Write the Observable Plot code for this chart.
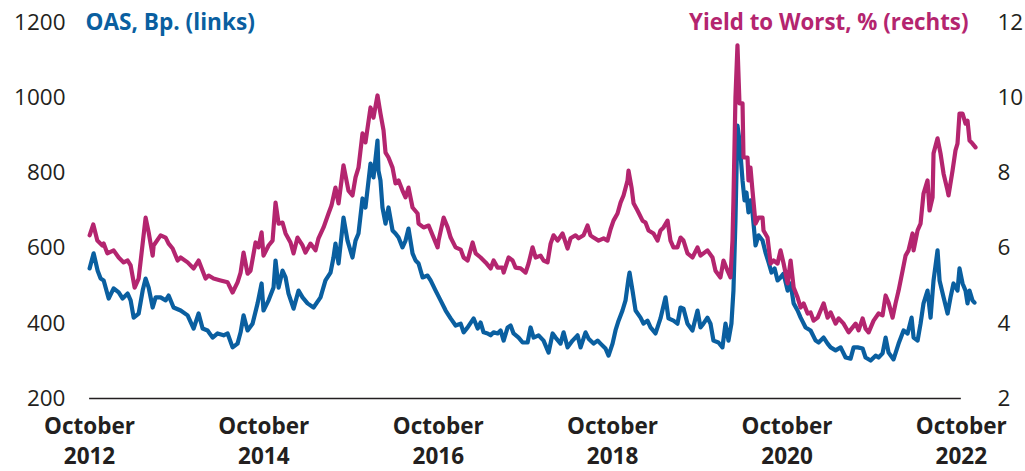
<!DOCTYPE html>
<html>
<head>
<meta charset="utf-8">
<script src="https://cdn.jsdelivr.net/npm/d3@7"></script>
<script src="https://cdn.jsdelivr.net/npm/@observablehq/plot@0.6"></script>
<style>
  html, body { margin: 0; padding: 0; background: #fff; }
  #chart { width: 1025px; height: 471px; }
</style>
</head>
<body>
<div id="chart"></div>
<script>
// High-yield spreads (OAS, basis points, left axis) and yield to worst (%, right axis).
// Time is given as decimal years.
const oasTicks = [200, 400, 600, 800, 1000, 1200];
const ytwTicks = [2, 4, 6, 8, 10, 12];
const tickYears = [2012, 2014, 2016, 2018, 2020, 2022];
const tickMonthName = "October";
const oasTitle = "OAS, Bp. (links)";
const ytwTitle = "Yield to Worst, % (rechts)";

const oasPoints = [
  [2012.750,546],[2012.796,586],[2012.842,540],[2012.876,519],[2012.911,514],[2012.968,466],[2013.025,493],[2013.083,482],
  [2013.128,466],[2013.186,479],[2013.220,461],[2013.255,415],[2013.312,426],[2013.358,487],[2013.392,519],[2013.427,495],
  [2013.473,442],[2013.507,469],[2013.564,469],[2013.622,461],[2013.656,474],[2013.713,442],[2013.794,434],[2013.874,421],
  [2013.943,386],[2014.000,426],[2014.046,386],[2014.103,381],[2014.161,362],[2014.218,373],[2014.287,368],[2014.333,373],
  [2014.390,336],[2014.447,346],[2014.482,376],[2014.516,421],[2014.562,381],[2014.619,399],[2014.677,453],[2014.723,506],
  [2014.745,434],[2014.803,461],[2014.860,495],[2014.883,567],[2014.918,495],[2014.963,540],[2014.998,522],[2015.032,479],
  [2015.090,439],[2015.147,487],[2015.193,469],[2015.250,453],[2015.319,442],[2015.399,469],[2015.456,514],[2015.514,535],
  [2015.548,575],[2015.571,612],[2015.606,559],[2015.663,681],[2015.709,620],[2015.766,575],[2015.801,620],[2015.835,639],
  [2015.881,732],[2015.915,708],[2015.973,825],[2016.007,788],[2016.053,886],[2016.064,806],[2016.087,780],[2016.110,708],
  [2016.145,665],[2016.179,708],[2016.225,647],[2016.259,639],[2016.294,628],[2016.339,602],[2016.374,620],[2016.408,652],
  [2016.454,586],[2016.489,567],[2016.523,559],[2016.569,522],[2016.626,527],[2016.661,514],[2016.718,487],[2016.775,461],
  [2016.833,434],[2016.890,413],[2016.947,394],[2017.005,399],[2017.039,376],[2017.085,389],[2017.154,413],[2017.200,386],
  [2017.234,402],[2017.268,376],[2017.314,373],[2017.349,368],[2017.383,376],[2017.429,373],[2017.463,381],[2017.498,354],
  [2017.544,389],[2017.578,394],[2017.612,373],[2017.670,362],[2017.716,349],[2017.773,349],[2017.807,389],[2017.842,362],
  [2017.899,368],[2017.956,354],[2018.014,322],[2018.060,373],[2018.094,362],[2018.151,346],[2018.186,376],[2018.232,336],
  [2018.289,354],[2018.346,368],[2018.381,336],[2018.438,376],[2018.473,359],[2018.530,346],[2018.576,354],[2018.610,346],
  [2018.667,333],[2018.702,314],[2018.748,346],[2018.782,381],[2018.817,407],[2018.862,434],[2018.897,461],[2018.931,519],
  [2018.943,535],[2018.977,487],[2019.012,434],[2019.069,415],[2019.103,399],[2019.149,407],[2019.184,389],[2019.241,373],
  [2019.298,413],[2019.356,469],[2019.390,413],[2019.447,407],[2019.493,399],[2019.528,442],[2019.562,439],[2019.608,399],
  [2019.665,381],[2019.723,434],[2019.757,389],[2019.791,399],[2019.837,415],[2019.872,399],[2019.906,354],[2019.963,349],
  [2020.009,336],[2020.044,399],[2020.078,354],[2020.112,399],[2020.135,487],[2020.158,673],[2020.181,926],[2020.204,886],
  [2020.239,780],[2020.262,727],[2020.284,748],[2020.307,695],[2020.330,727],[2020.353,695],[2020.388,607],[2020.422,634],
  [2020.468,620],[2020.502,588],[2020.537,562],[2020.571,535],[2020.606,546],[2020.640,514],[2020.674,522],[2020.709,532],
  [2020.755,487],[2020.789,506],[2020.824,453],[2020.869,434],[2020.904,415],[2020.961,389],[2021.018,381],[2021.076,354],
  [2021.110,349],[2021.168,362],[2021.213,346],[2021.248,336],[2021.305,328],[2021.363,336],[2021.420,309],[2021.477,306],
  [2021.512,336],[2021.557,336],[2021.615,333],[2021.649,309],[2021.707,301],[2021.764,314],[2021.798,309],[2021.844,320],
  [2021.879,362],[2021.913,322],[2021.970,304],[2022.028,346],[2022.085,381],[2022.131,373],[2022.177,415],[2022.200,362],
  [2022.246,354],[2022.280,399],[2022.314,453],[2022.360,487],[2022.395,415],[2022.429,514],[2022.475,594],[2022.498,514],
  [2022.544,469],[2022.590,426],[2022.624,469],[2022.658,506],[2022.704,487],[2022.727,546],[2022.762,506],[2022.796,487],
  [2022.819,453],[2022.842,487],[2022.876,461],[2022.899,455]
];

const ytwPoints = [
  [2012.750,6.34],[2012.792,6.63],[2012.838,6.20],[2012.896,6.07],[2012.911,6.12],[2012.953,5.86],[2013.025,5.94],[2013.083,5.75],
  [2013.140,5.62],[2013.186,5.67],[2013.220,5.54],[2013.266,4.95],[2013.312,5.19],[2013.358,6.12],[2013.392,6.81],[2013.427,6.42],
  [2013.473,5.80],[2013.484,6.07],[2013.564,6.34],[2013.622,6.28],[2013.656,6.12],[2013.702,5.99],[2013.759,5.67],[2013.794,5.75],
  [2013.874,5.62],[2013.943,5.46],[2014.000,5.67],[2014.080,5.19],[2014.115,5.27],[2014.172,5.19],[2014.252,5.14],[2014.333,5.09],
  [2014.390,4.82],[2014.447,5.09],[2014.482,5.35],[2014.516,5.88],[2014.562,5.32],[2014.596,5.40],[2014.654,6.15],[2014.688,6.02],
  [2014.723,6.42],[2014.745,5.80],[2014.803,6.07],[2014.849,6.20],[2014.883,7.21],[2014.918,6.65],[2014.963,6.68],[2014.998,6.39],
  [2015.055,6.15],[2015.090,5.86],[2015.135,6.28],[2015.193,6.07],[2015.227,5.88],[2015.284,6.12],[2015.342,5.94],[2015.376,6.26],
  [2015.434,6.55],[2015.491,6.92],[2015.525,7.13],[2015.571,7.61],[2015.606,7.19],[2015.663,8.20],[2015.720,7.53],[2015.766,7.40],
  [2015.801,7.88],[2015.835,8.14],[2015.881,9.05],[2015.915,8.81],[2015.973,9.74],[2016.007,9.47],[2016.053,10.06],[2016.087,9.58],
  [2016.122,9.13],[2016.145,8.54],[2016.179,8.41],[2016.225,8.14],[2016.259,7.72],[2016.294,7.80],[2016.339,7.53],[2016.374,7.35],
  [2016.408,7.61],[2016.454,7.08],[2016.512,6.92],[2016.523,6.65],[2016.580,6.55],[2016.638,6.60],[2016.695,6.28],[2016.741,6.02],
  [2016.752,6.20],[2016.810,6.81],[2016.856,6.55],[2016.890,6.28],[2016.947,6.02],[2017.005,5.96],[2017.039,5.75],[2017.085,5.67],
  [2017.142,6.15],[2017.177,5.86],[2017.234,5.75],[2017.291,5.62],[2017.349,5.46],[2017.383,5.67],[2017.429,5.48],[2017.486,5.48],
  [2017.498,5.35],[2017.555,5.75],[2017.601,5.67],[2017.635,5.48],[2017.693,5.46],[2017.750,5.35],[2017.784,5.59],[2017.830,6.02],
  [2017.865,5.75],[2017.922,5.80],[2017.956,5.67],[2018.002,5.62],[2018.037,6.12],[2018.071,6.34],[2018.117,6.20],[2018.174,6.39],
  [2018.232,5.99],[2018.266,6.26],[2018.323,6.34],[2018.358,6.26],[2018.415,6.34],[2018.461,6.60],[2018.495,6.34],[2018.530,6.28],
  [2018.587,6.20],[2018.645,6.26],[2018.690,6.20],[2018.725,6.50],[2018.759,6.73],[2018.805,6.92],[2018.840,7.21],[2018.874,7.40],
  [2018.920,7.80],[2018.931,8.06],[2018.966,7.61],[2018.989,7.19],[2019.034,7.00],[2019.092,6.73],[2019.126,6.68],[2019.161,6.47],
  [2019.218,6.39],[2019.264,6.20],[2019.298,6.47],[2019.333,6.55],[2019.379,6.73],[2019.413,6.20],[2019.447,6.02],[2019.493,6.02],
  [2019.528,6.28],[2019.562,6.20],[2019.608,5.86],[2019.665,5.75],[2019.723,6.02],[2019.757,5.80],[2019.791,5.86],[2019.837,5.94],
  [2019.895,5.75],[2019.929,5.40],[2019.986,5.22],[2020.021,5.67],[2020.067,5.40],[2020.101,5.22],[2020.124,6.20],[2020.135,7.27],
  [2020.158,10.01],[2020.181,11.39],[2020.204,9.85],[2020.239,9.85],[2020.250,8.41],[2020.296,8.41],[2020.307,7.80],[2020.330,8.14],
  [2020.353,7.53],[2020.388,6.65],[2020.422,6.81],[2020.468,6.81],[2020.479,6.47],[2020.525,6.28],[2020.560,5.59],[2020.594,5.67],
  [2020.640,5.59],[2020.674,5.94],[2020.709,5.59],[2020.755,5.06],[2020.789,5.67],[2020.824,4.95],[2020.869,4.69],[2020.904,4.42],
  [2020.938,4.53],[2020.984,4.26],[2021.018,4.29],[2021.053,4.07],[2021.099,4.15],[2021.133,4.34],[2021.168,4.53],[2021.213,4.15],
  [2021.248,4.29],[2021.305,3.99],[2021.340,4.13],[2021.397,3.99],[2021.454,3.76],[2021.500,3.89],[2021.535,3.99],[2021.569,3.81],
  [2021.615,4.13],[2021.649,3.86],[2021.684,3.76],[2021.741,4.07],[2021.798,4.26],[2021.844,4.21],[2021.879,4.74],[2021.913,4.55],
  [2021.959,4.15],[2021.993,4.53],[2022.028,4.87],[2022.074,5.40],[2022.108,5.80],[2022.142,5.94],[2022.188,6.39],[2022.200,5.94],
  [2022.246,6.47],[2022.280,6.65],[2022.314,7.45],[2022.360,7.80],[2022.383,7.00],[2022.418,7.35],[2022.429,8.52],[2022.475,8.92],
  [2022.509,8.52],[2022.544,7.98],[2022.590,7.53],[2022.601,7.40],[2022.647,8.06],[2022.681,8.60],[2022.704,8.78],[2022.727,9.58],
  [2022.762,9.58],[2022.796,9.31],[2022.819,9.39],[2022.842,8.86],[2022.876,8.78],[2022.911,8.68]
];

// Both axes share one vertical scale: 1 % of yield corresponds to 100 bp.
const BP_PER_PERCENT = 100;

const blue = "#0a5fa0";
const magenta = "#b4256f";
const ink = "#231f20";
const font = "'Open Sans', 'Noto Sans', sans-serif";

function fromDecimalYear(t) {
  const y = Math.floor(t);
  const start = Date.UTC(y, 0, 1), end = Date.UTC(y + 1, 0, 1);
  return new Date(start + (t - y) * (end - start));
}

const oas = oasPoints.map(([t, v]) => ({date: fromDecimalYear(t), value: v}));
const ytw = ytwPoints.map(([t, v]) => ({date: fromDecimalYear(t), value: v}));
const tickDates = tickYears.map(y => new Date(Date.UTC(y, 9, 1)));

const chart = Plot.plot({
  width: 1025,
  height: 471,
  marginTop: 22,
  marginBottom: 73,
  marginLeft: 89,
  marginRight: 49,
  style: {fontFamily: font, fontSize: "22px", color: ink, background: "#fff"},
  x: {type: "utc", domain: [tickDates[0], fromDecimalYear(2022.922)]},
  y: {domain: [oasTicks[0], oasTicks[oasTicks.length - 1]]},
  marks: [
    Plot.axisX({
      ticks: tickDates,
      tickFormat: d => `${tickMonthName}\n${d.getUTCFullYear()}`,
      tickSize: 0,
      tickPadding: 14,
      fontWeight: "bold",
      fontSize: 22.5,
      lineHeight: 1.33,
      fill: ink,
      label: null
    }),
    Plot.axisY({
      anchor: "left",
      ticks: oasTicks,
      tickFormat: d => String(d),
      tickSize: 0,
      tickPadding: 24,
      fontSize: 22.5,
      fill: ink,
      label: null
    }),
    Plot.axisY({
      anchor: "right",
      ticks: ytwTicks.map(v => v * BP_PER_PERCENT),
      tickFormat: d => String(d / BP_PER_PERCENT),
      tickSize: 0,
      tickPadding: 21,
      fontSize: 22.5,
      fill: ink,
      label: null
    }),
    Plot.ruleY([oasTicks[0]], {
      x1: oas[0].date,
      x2: tickDates[tickDates.length - 1],
      stroke: ink,
      strokeWidth: 1.3
    }),
    Plot.line(oas, {x: "date", y: "value", stroke: blue, strokeWidth: 4.2, strokeLinejoin: "round"}),
    Plot.line(ytw, {x: "date", y: d => d.value * BP_PER_PERCENT, stroke: magenta, strokeWidth: 4.2, strokeLinejoin: "round"}),
    Plot.text([oasTitle], {
      frameAnchor: "top-left",
      textAnchor: "start",
      lineAnchor: "middle",
      dx: -4,
      fill: blue,
      fontWeight: "bold",
      fontSize: 22.6
    }),
    Plot.text([ytwTitle], {
      frameAnchor: "top-right",
      textAnchor: "end",
      lineAnchor: "middle",
      dx: -8,
      fill: magenta,
      fontWeight: "bold",
      fontSize: 22.3
    })
  ]
});

document.getElementById("chart").appendChild(chart);
</script>
</body>
</html>
